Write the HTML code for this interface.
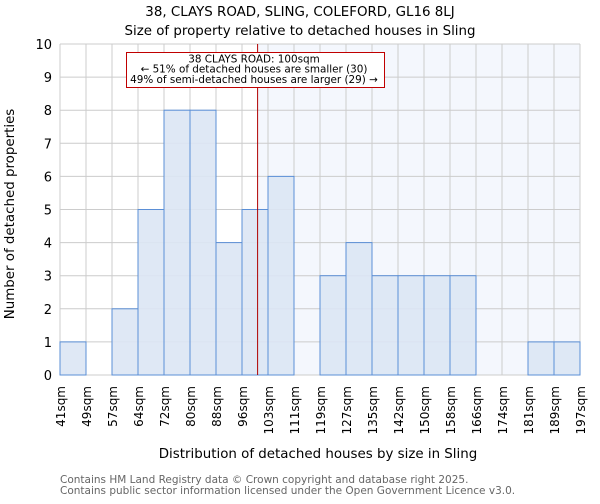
<!DOCTYPE html>
<html><head><meta charset="utf-8"><style>
body{margin:0;background:#fff;font-family:"DejaVu Sans","Liberation Sans",sans-serif}
</style></head><body>
<svg width="600" height="500" xmlns="http://www.w3.org/2000/svg" font-family="DejaVu Sans, Liberation Sans, sans-serif">
<text x="300" y="16" text-anchor="middle" font-size="13.4">38, CLAYS ROAD, SLING, COLEFORD, GL16 8LJ</text>
<text x="300" y="35" text-anchor="middle" font-size="13.4">Size of property relative to detached houses in Sling</text>
<g id="plot"></g>
<text x="318" y="458" text-anchor="middle" font-size="13.4">Distribution of detached houses by size in Sling</text>
<text transform="translate(14,214) rotate(-90)" text-anchor="middle" font-size="13.4">Number of detached properties</text>
<text x="60" y="483" font-size="10.5" fill="#666">Contains HM Land Registry data © Crown copyright and database right 2025.</text>
<text x="60" y="494" font-size="10.5" fill="#666">Contains public sector information licensed under the Open Government Licence v3.0.</text>
</svg>
<script>
const categories=["41sqm","49sqm","57sqm","64sqm","72sqm","80sqm","88sqm","96sqm","103sqm","111sqm","119sqm","127sqm","135sqm","142sqm","150sqm","158sqm","166sqm","174sqm","181sqm","189sqm","197sqm"];
const counts=[1,0,2,5,8,8,4,5,6,0,3,4,3,3,3,3,0,0,1,1];
const yTicks=[0,1,2,3,4,5,6,7,8,9,10];
const markerBin=7.6;
const NS="http://www.w3.org/2000/svg";
const g=document.getElementById('plot');
const X0=60,X1=580,Y0=375,Y1=44,n=counts.length;
const xs=i=>X0+(X1-X0)*i/n;
const ys=v=>Y0-(Y0-Y1)*v/10;
function mk(t,a){const e=document.createElementNS(NS,t);for(const k in a)e.setAttribute(k,a[k]);g.appendChild(e);return e;}
let e=mk('rect',{x:xs(markerBin),y:Y1,width:X1-xs(markerBin),height:Y0-Y1,fill:'#f4f7fd'});


for(let i=0;i<=n;i++){e=mk('line',{x1:xs(i),x2:xs(i),y1:Y1,y2:Y0,stroke:'#ccc'});

}
yTicks.forEach(v=>{e=mk('line',{x1:X0,x2:X1,y1:ys(v),y2:ys(v),stroke:'#ccc'});


e=mk('text',{x:X0-8,y:ys(v)+5,'text-anchor':'end','font-size':13});e.textContent=v;

});
counts.forEach((c,i)=>{if(c>0){e=mk('rect',{x:xs(i),y:ys(c),width:xs(i+1)-xs(i),height:ys(0)-ys(c),fill:'#dce6f4','fill-opacity':0.9,stroke:'#5b8fd6','stroke-width':1});

}});
categories.forEach((c,i)=>{const x=xs(i);e=mk('text',{transform:`translate(${x+5},386) rotate(-90)`,'text-anchor':'end','font-size':12});e.textContent=c;

});
e=mk('line',{x1:xs(markerBin),x2:xs(markerBin),y1:Y1,y2:Y0,stroke:'#b00000','stroke-width':1});


e=mk('rect',{x:126.5,y:52.5,width:258,height:35,fill:'#fff',stroke:'#c00000'});


const lines=["38 CLAYS ROAD: 100sqm","← 51% of detached houses are smaller (30)","49% of semi-detached houses are larger (29) →"];
lines.forEach((t,k)=>{e=mk('text',{x:254,y:62.5+k*10.2,'text-anchor':'middle','font-size':10.4});e.textContent=t;

});
</script>
</body></html>
